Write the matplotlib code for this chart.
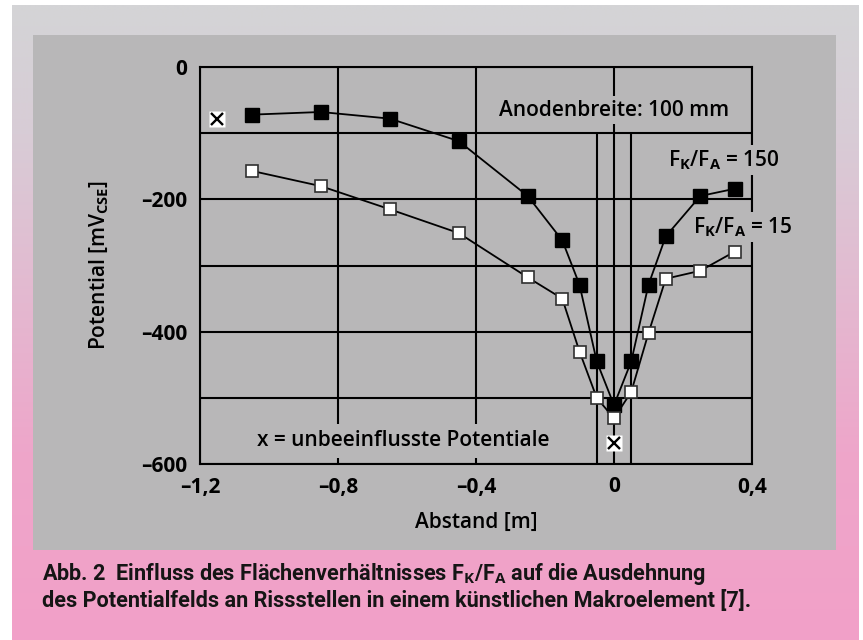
import numpy as np
import matplotlib.pyplot as plt
from matplotlib.patches import Rectangle

plt.rcParams['font.family'] = ['Open Sans', 'DejaVu Sans']
plt.rcParams['mathtext.fontset'] = 'custom'
plt.rcParams['mathtext.rm'] = 'Open Sans:bold'

# F_K/F_A = 150 (filled squares)
x_150 = [-1.05, -0.85, -0.65, -0.45, -0.25, -0.15, -0.10, -0.05, 0.0, 0.05, 0.10, 0.15, 0.25, 0.35]
y_150 = [-72, -68, -78, -112, -195, -262, -329, -445, -511, -445, -329, -256, -195, -184]

# F_K/F_A = 15 (open squares)
x_15 = [-1.05, -0.85, -0.65, -0.45, -0.25, -0.15, -0.10, -0.05, 0.0, 0.05, 0.10, 0.15, 0.25, 0.35]
y_15 = [-157, -180, -215, -251, -318, -350, -430, -500, -531, -491, -402, -320, -308, -279]

# unbeeinflusste Potentiale
x_free = [-1.15, 0.0]
y_free = [-78, -569]

# anode edges
anode = [-0.05, 0.05]

xticks = [-1.2, -0.8, -0.4, 0, 0.4]
xtick_labels = ['–1,2', '–0,8', '–0,4', '0', '0,4']
yticks = [0, -200, -400, -600]
ytick_labels = ['0', '–200', '–400', '–600']
yminor = [-100, -300, -500]

panel = '#b8b7b8'

fig = plt.figure(figsize=(8.63, 6.4), dpi=100)

# background: gradient frame + grey panel
bg = fig.add_axes([0, 0, 1, 1], zorder=-10)
bg.set_xlim(0, 863)
bg.set_ylim(640, 0)
bg.axis('off')
rows = np.arange(640)
stops_y = [5, 130, 300, 450, 640]
stops_c = np.array([[212, 212, 214], [216, 204, 214], [228, 184, 208], [238, 166, 202], [242, 160, 200]]) / 255
grad = np.stack([np.interp(rows, stops_y, stops_c[:, k]) for k in range(3)], axis=-1)
grad = np.repeat(grad[:, None, :], 2, axis=1)
bg.imshow(grad, extent=(12, 858, 640, 5), aspect='auto', interpolation='bilinear')
bg.add_patch(Rectangle((33, 35), 803, 515, color=panel, lw=0))

ax = fig.add_axes([200 / 863, 1 - 464 / 640, 552 / 863, 397 / 640])
ax.set_facecolor(panel)
ax.set_xlim(-1.2, 0.4)
ax.set_ylim(-600, 0)

ax.set_xticks(xticks)
ax.set_xticklabels(xtick_labels, fontsize=15, weight='bold')
ax.set_yticks(yticks)
ax.set_yticklabels(ytick_labels, fontsize=15, weight='bold')
ax.set_yticks(yminor, minor=True)
ax.tick_params(which='both', length=0)
ax.tick_params(axis='y', pad=9)
ax.tick_params(axis='x', pad=9)
ax.grid(True, which='both', color='black', lw=1.5)
ax.set_axisbelow(True)
for s in ax.spines.values():
    s.set_linewidth(1.5)
    s.set_color('black')

ax.vlines(anode, -600, -100, color='black', lw=1.5, zorder=1)

ax.plot(x_150, y_150, color='black', lw=1.3, marker='s', ms=9.5,
        mfc='black', mec='black', zorder=4)
ax.plot(x_15, y_15, color='black', lw=1.3, marker='s', ms=9,
        mfc='white', mec='#303030', mew=1.2, zorder=5)
ax.plot(x_free, y_free, ls='none', marker='s', ms=11, mfc='white', mec='none', zorder=6)
ax.plot(x_free, y_free, ls='none', marker='x', ms=8.5, mew=1.7, color='black', zorder=7)

box = dict(boxstyle='square,pad=0.15', fc=panel, ec='none')
ax.text(0, -65, 'Anodenbreite: 100 mm', ha='center', va='center',
        fontsize=15, weight='semibold', bbox=box, zorder=3)
ax.text(0.319, -141, r'F$_\mathrm{K}$/F$_\mathrm{A}$ = 150', ha='center', va='center',
        fontsize=15, weight='semibold', bbox=box, zorder=3)
ax.text(0.374, -242, r'F$_\mathrm{K}$/F$_\mathrm{A}$ = 15', ha='center', va='center',
        fontsize=15, weight='semibold', bbox=box, zorder=3)
ax.text(-0.61, -565, 'x = unbeeinflusste Potentiale', ha='center', va='center',
        fontsize=15, weight='semibold', bbox=dict(boxstyle='square,pad=0.3', fc=panel, ec='none'), zorder=3)

fig.text(476 / 863, 1 - 522 / 640, 'Abstand [m]', ha='center', va='center',
         fontsize=15, weight='semibold')
fig.text(99 / 863, 1 - 265 / 640, r'Potential [mV$_\mathrm{CSE}$]', ha='center', va='center',
         rotation=90, fontsize=15, weight='semibold')

cap = dict(fontsize=15.6, weight='bold', color='#151515', family=['Roboto', 'DejaVu Sans'])
fig.text(42 / 863, 1 - 580 / 640,
         r'Abb. 2  Einfluss des Flächenverhältnisses F$_\mathrm{K}$/F$_\mathrm{A}$ auf die Ausdehnung',
         va='baseline', **cap)
fig.text(42 / 863, 1 - 607 / 640,
         'des Potentialfelds an Rissstellen in einem künstlichen Makroelement [7].',
         va='baseline', **cap)

fig.savefig('out.png', dpi=100)
